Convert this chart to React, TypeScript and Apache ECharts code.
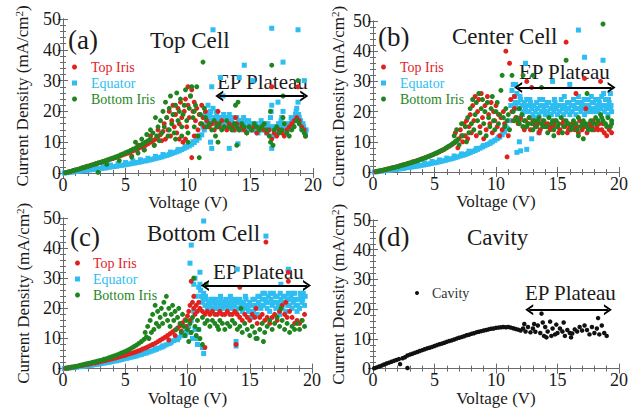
import React, { useEffect, useRef } from "react";
import * as echarts from "echarts";

const SERIF = "Liberation Serif";
const FONT_FAMILY_CSS = "\"Liberation Serif\", \"Times New Roman\", serif";
const RED = "#e0221f";
const CYAN = "#2ebdf0";
const GREEN = "#1f861f";
const BLACK = "#111111";

const xTickValues = [0, 5, 10, 15, 20];
const yTickValues = [0, 10, 20, 30, 40, 50];
const seriesNames = ["Top Iris", "Equator", "Bottom Iris"];
const cavityName = "Cavity";
const panelLetters = ["(a)", "(b)", "(c)", "(d)"];
const panelTitles = ["Top Cell", "Center Cell", "Bottom Cell", "Cavity"];
const plateauLabel = "EP Plateau";
// [start V, end V, level mA/cm2] (arrow shaft ends; heads extend slightly beyond)
const plateauArrows = [
  [12.5, 19.3, 25],
  [11.8, 19.4, 28],
  [11.4, 19.6, 27.6],
  [12.7, 19.1, 19.8],
];

// ---------- Panel (a) Top Cell ----------
const aEquator = [
  [0.1,0],[0.3,0.1],[0.5,0.2],[0.7,0.3],[0.9,0.4],[1.1,0.5],[1.3,0.6],[1.5,0.7],[1.7,0.8],[1.9,0.9],[2.1,1.0],[2.3,1.1],[2.5,1.2],[2.7,1.3],[2.9,1.4],[3.1,1.5],[3.3,1.6],[3.5,1.7],[3.7,1.9],[3.9,2.0],[4.1,2.1],[4.3,2.2],[4.5,2.4],[4.7,2.5],[4.9,2.6],[5.1,2.8],[5.3,2.9],[5.5,3.1],[5.7,3.2],[5.9,3.4],[6.1,3.5],[6.3,3.7],[6.5,3.9],[6.7,4.0],[6.9,4.2],[7.1,4.4],[7.3,4.6],[7.5,4.8],[7.7,5.0],[7.9,5.2],[8.1,5.5],[8.3,5.7],[8.5,6.0],[8.7,6.3],[8.9,6.6],[9.1,6.9],[9.3,7.2],[9.5,7.6],[9.7,8.0],[9.9,8.4],[10.1,8.8],[10.3,9.3],[10.5,9.9],[10.7,10.6],[10.9,11.4],[11.1,12.4],[11.3,14.0],[11.5,16.5],
  [2.0,1.6],[2.6,1.9],[3.2,2.2],[3.8,2.6],[4.4,3.0],[5.0,3.4],[5.6,3.9],[6.2,4.3],[6.8,4.8],[7.4,5.4],[8.0,6.0],[8.6,6.8],[9.2,7.6],[9.8,8.6],[10.4,10.2],[10.8,12],[11.2,15],[11.4,19],[11.6,22],
  [11.7,18],[11.8,20],[11.9,17],[12.0,21],[12.1,18],[12.2,16],[12.3,19],[12.4,17],[12.5,15],[12.6,18],[12.7,17],[12.8,16],[12.9,18],[13.0,15],[13.1,17],[13.2,16],[13.3,19],[13.4,15],[13.5,17],[13.6,16],[13.7,14],[13.8,16],[13.9,18],[14.0,15],[14.1,16],[14.2,17],[14.3,15],[14.4,14],[14.5,16],[14.6,17],[14.7,15],[14.8,14],[14.9,16],[15.0,15],[15.1,14],[15.2,16],[15.3,15],[15.4,14],[15.5,15],[15.6,13],[15.7,15],[15.8,14],[15.9,16],[16.0,15],[16.1,14],[16.2,15],[16.3,13],[16.4,16],[16.5,15],[16.6,18],[16.7,22],[16.8,12],[16.9,14],[17.0,15],[17.1,13],[17.2,14],[17.3,16],[17.4,15],[17.5,18],[17.6,20],[17.7,14],[17.8,13],[17.9,15],[18.0,14],[18.1,16],[18.2,15],[18.3,17],[18.4,16],[18.5,18],[18.6,19],[18.7,21],[18.8,23],[18.9,18],[19.0,17],[19.1,15],[19.2,16],[19.3,14],[19.4,13],
  [11.75,19],[12.05,17],[12.25,20],[12.45,18],[12.65,16],[12.85,19],[13.05,17],[13.25,18],[13.45,16],[13.65,18],[13.85,15],[14.05,17],[14.25,16],[14.45,18],[14.65,15],[14.85,17],[15.05,16],[15.25,14],[15.45,16],[15.65,15],[15.85,17],[16.05,14],[16.25,16],[16.45,14],[16.65,20],[16.85,15],[17.05,14],[17.25,16],[17.45,17],[17.65,15],[17.85,16],[18.05,15],[18.25,18],[18.45,17],[18.65,20],[18.85,19],[19.05,16],[19.25,15],[19.45,14],
  [12.0,46.5],[16.7,47],[18.8,46.5],[14.5,35],[17.6,36],[12.6,31],[14.1,31],[11.9,28],[11.8,10],[11.9,8],[13.3,8],[14.0,9.5],[16.7,8],[12.8,25],[15.2,30],[17.2,23],[19.3,30],
];
const aTopIris = [
  [0.2,0.1],[0.4,0.3],[0.6,0.5],[0.8,0.7],[1.0,1.0],[1.2,1.2],[1.4,1.4],[1.6,1.7],[1.8,1.9],[2.0,2.2],[2.2,2.4],[2.4,2.7],[2.6,2.9],[2.8,3.2],[3.0,3.4],[3.2,3.7],[3.4,3.9],[3.6,4.2],[3.8,4.5],[4.0,4.7],[4.2,5.0],[4.4,5.3],[4.6,5.6],[4.8,5.9],[5.0,6.2],[5.2,6.5],[5.4,6.9],[5.6,7.2],[5.8,7.5],[6.0,7.9],[6.2,8.3],[6.4,8.6],[6.6,9.0],[6.8,9.5],[7.0,10.0],[7.2,10.5],[7.4,11.0],[7.6,11.8],[7.8,12.5],[8.0,13.5],
  [5.5,5.5],[6.0,9],[6.5,7.5],[7.0,12],[7.3,9],[7.6,14],[7.9,10.5],[8.1,16],[8.2,11],[8.3,18],[8.4,14],[8.5,20],[8.6,12],[8.7,17],[8.8,22],[8.9,15],[9.0,19],[9.1,13],[9.2,21],[9.3,16],[9.4,23],[9.5,18],[9.6,10],[9.7,20],[9.8,24],[9.9,15],[10.0,22],[10.1,18],[10.2,25],[10.3,27],[10.4,20],[10.5,23],[10.6,17],[10.7,21],[10.8,14],[10.9,19],[11.0,16],[11.1,22],[11.2,18],[11.3,15],[11.4,20],[11.5,17],[10.3,5],[9.8,11],[10.5,12],[10.0,28],[9.3,11],
  [11.7,15],[11.9,16],[12.1,14],[12.3,16],[12.5,15],[12.7,17],[12.9,15],[13.1,14],[13.3,16],[13.5,15],[13.7,14],[13.9,16],[14.1,14],[14.3,15],[14.5,14],[14.7,13],[14.9,15],[15.1,14],[15.3,15],[15.5,13],[15.7,14],[15.9,15],[16.1,14],[16.3,13],[16.5,14],[16.7,11],[16.9,13],[17.1,12],[17.3,14],[17.5,13],[17.7,12],[17.9,14],[18.1,15],[18.3,16],[18.5,17],[18.7,18],[18.9,17],[19.1,15],[19.3,14],[19.4,12],
  [16.7,28],[18.8,28],[12.4,20],[13.8,18],
];
const aBottomIris = [
  [0.2,0.1],[0.4,0.3],[0.6,0.5],[0.8,0.8],[1.0,1.0],[1.2,1.2],[1.4,1.5],[1.6,1.7],[1.8,2.0],[2.0,2.2],[2.2,2.5],[2.4,2.7],[2.6,3.0],[2.8,0.2],[2.8,3.2],[3.0,3.5],[3.2,3.8],[3.4,4.0],[3.6,4.3],[3.8,4.6],[4.0,4.9],[4.2,5.2],[4.4,5.5],[4.6,5.9],[4.8,6.2],[5.0,6.6],[5.2,6.9],[5.4,7.3],[5.6,7.7],[5.8,8.1],[6.0,8.5],[6.2,9.0],[6.4,9.5],[6.6,10.0],[6.8,10.5],[7.0,11.1],
  [3.5,2.8],[4.5,4.0],[5.5,5.2],[6.0,6.5],[6.5,7.5],[5.8,10],[6.3,11],[6.7,12.5],[7.0,14],
  [7.2,13],[7.3,9],[7.4,18],[7.5,12],[7.6,15],[7.7,10.5],[7.8,17],[7.9,13],[8.0,20],[8.1,15],[8.2,23],[8.3,18],[8.4,12],[8.5,21],[8.6,25],[8.7,16],[8.8,19],[8.9,13],[9.0,22],[9.1,26],[9.2,17],[9.3,20],[9.4,24],[9.5,15],[9.6,19],[9.7,22],[9.8,27],[9.9,17],[10.0,13],[10.1,21],[10.2,25],[10.3,28],[10.4,18],[10.5,15],[10.6,22],[10.7,28],[10.8,12],[10.9,5],[11.0,19],[11.1,16],[11.2,36],[11.3,21],[11.4,18],[11.5,15],[8.5,14],[9.0,11],[9.5,12],[10.0,10],[10.5,20],
  [11.7,16],[11.9,14],[12.1,17],[12.3,15],[12.5,16],[12.7,14],[12.9,15],[13.1,17],[13.3,15],[13.5,14],[13.7,16],[13.8,22],[13.9,15],[14.1,14],[14.3,16],[14.5,15],[14.7,13],[14.9,15],[15.1,14],[15.3,16],[15.5,15],[15.7,14],[15.9,15],[16.1,16],[16.3,14],[16.5,12],[16.6,10],[16.7,35],[16.8,9],[16.9,14],[17.1,15],[17.3,13],[17.5,14],[17.6,25],[17.7,16],[17.9,13],[18.1,12],[18.3,14],[18.5,15],[18.7,17],[18.8,30],[18.9,16],[19.1,14],[19.3,13],[19.4,12],
  [13.9,9],[12.4,10],[14.0,23],[16.6,20],[17.6,18],[12.2,12],
];

// ---------- Panel (b) Center Cell ----------
const bEquator = [
  [0.1,0],[0.3,0.1],[0.5,0.2],[0.7,0.3],[0.9,0.4],[1.1,0.5],[1.3,0.6],[1.5,0.7],[1.7,0.8],[1.9,0.9],[2.1,1.0],[2.3,1.1],[2.5,1.2],[2.7,1.4],[2.9,1.5],[3.1,1.6],[3.3,1.8],[3.5,1.9],[3.7,2.0],[3.9,2.2],[4.1,2.3],[4.3,2.5],[4.5,2.6],[4.7,2.8],[4.9,3.0],[5.1,3.1],[5.3,3.3],[5.5,3.5],[5.7,3.7],[5.9,3.9],[6.1,4.1],[6.3,4.3],[6.5,4.5],[6.7,4.8],[6.9,5.0],[7.1,5.3],[7.3,5.5],[7.5,5.8],[7.7,6.1],[7.9,6.4],[8.1,6.8],[8.3,7.1],[8.5,7.5],[8.7,7.9],[8.9,8.3],[9.1,8.7],[9.3,9.1],[9.5,9.5],[9.7,10.0],[9.9,10.5],[10.1,11.0],[10.3,11.6],[10.5,12.3],[10.7,13.2],[10.9,14.5],[11.1,17],[11.2,22],[11.3,27],
  [2.4,1.7],[3.0,2.1],[3.6,2.5],[4.2,3.0],[4.8,3.5],[5.4,4.0],[6.0,4.6],[6.6,5.3],[7.2,6.0],[7.8,6.9],[8.4,7.8],[9.0,8.8],[9.6,9.9],[10.2,11.5],[10.6,13.5],[10.8,15],
  [11.4,29],[11.5,25],[11.6,22],[11.7,26],[11.8,23],[11.9,21],[12.0,24],[12.1,22],[12.2,20],[12.3,23],[12.4,21],[12.5,24],[12.6,22],[12.7,20],[12.8,23],[12.9,21],[13.0,19],[13.1,22],[13.2,20],[13.3,23],[13.4,21],[13.5,19],[13.6,22],[13.7,20],[13.8,24],[13.9,21],[14.0,19],[14.1,22],[14.2,20],[14.3,23],[14.4,21],[14.5,19],[14.6,22],[14.7,20],[14.8,23],[14.9,21],[15.0,19],[15.1,22],[15.2,20],[15.3,24],[15.4,21],[15.5,19],[15.6,22],[15.7,20],[15.8,23],[15.9,21],[16.0,19],[16.1,22],[16.2,20],[16.3,24],[16.4,21],[16.5,19],[16.6,23],[16.7,25],[16.8,21],[16.9,20],[17.0,23],[17.1,21],[17.2,19],[17.3,22],[17.4,20],[17.5,24],[17.6,21],[17.7,20],[17.8,23],[17.9,21],[18.0,20],[18.1,24],[18.2,22],[18.3,20],[18.4,23],[18.5,21],[18.6,25],[18.7,22],[18.8,20],[18.9,24],[19.0,22],[19.1,19],[19.2,23],[19.3,21],[19.4,20],
  [11.55,23],[11.75,21],[11.95,25],[12.15,19],[12.35,22],[12.55,20],[12.75,24],[12.95,22],[13.15,18],[13.35,21],[13.55,24],[13.75,22],[13.95,20],[14.15,23],[14.35,19],[14.55,21],[14.75,24],[14.95,22],[15.15,20],[15.35,22],[15.55,25],[15.75,21],[15.95,23],[16.15,20],[16.35,22],[16.55,21],[16.75,23],[16.95,22],[17.15,24],[17.35,20],[17.55,22],[17.75,25],[17.95,23],[18.15,21],[18.35,24],[18.55,22],[18.75,26],[18.95,21],[19.15,24],[19.35,22],
  [16.7,47],[12.4,36],[17.2,38],[18.7,37],[16.0,29],[14.6,30],[12.5,7.5],[12.0,7],[11.7,6.5],[11.9,10],[12.9,11],[13.5,13],[19.3,26],[11.6,29],
];
const bTopIris = [
  [0.2,0.1],[0.4,0.2],[0.6,0.4],[0.8,0.6],[1.0,0.8],[1.2,1.0],[1.4,1.2],[1.6,1.4],[1.8,1.6],[2.0,1.8],[2.2,2.1],[2.4,2.3],[2.6,2.5],[2.8,2.8],[3.0,3.0],[3.2,3.3],[3.4,3.5],[3.6,3.8],[3.8,4.1],[4.0,4.4],[4.2,4.7],[4.4,5.0],[4.6,5.3],[4.8,5.6],[5.0,6.0],[5.2,6.3],[5.4,6.7],[5.6,7.1],[5.8,7.5],[6.0,8.0],[6.2,8.5],[6.4,9.0],[6.6,9.6],[6.8,10.3],[7.0,11.0],[7.2,12],
  [6.7,13],[6.9,8],[7.1,14],[7.3,10],[7.4,16],[7.5,12],[7.6,17],[7.7,11],[7.8,15],[7.9,19],[8.0,13],[8.1,22],[8.2,17],[8.3,25],[8.4,12],[8.5,20],[8.6,24],[8.7,15],[8.8,26],[8.9,18],[9.0,11],[9.1,22],[9.2,14],[9.3,25],[9.4,19],[9.5,16],[9.6,23],[9.7,13],[9.8,20],[9.9,17],[10.0,22],[10.1,15],[10.2,19],[10.3,12],[10.4,18],[10.5,14],[10.6,20],[10.7,16],[10.8,40],[10.9,5],[11.0,12],[11.1,36],[11.2,24],[11.3,20],[11.4,17],[11.5,21],[11.6,18],
  [11.8,16],[12.0,18],[12.2,15],[12.4,17],[12.6,16],[12.8,14],[13.0,17],[13.2,15],[13.4,16],[13.6,14],[13.8,17],[14.0,15],[14.2,16],[14.4,14],[14.6,15],[14.8,17],[15.0,15],[15.2,14],[15.4,16],[15.6,15],[15.8,13],[16.0,15],[16.2,16],[16.4,14],[16.6,15],[16.8,17],[17.0,14],[17.2,15],[17.4,13],[17.6,16],[17.8,15],[18.0,14],[18.2,15],[18.4,16],[18.6,14],[18.8,13],[19.0,12],[19.2,14],[19.4,13],
  [11.9,17],[12.3,14],[12.7,18],[13.1,16],[13.5,13],[13.9,16],[14.3,15],[14.7,16],[15.1,13],[15.5,17],[15.9,14],[16.3,15],[16.7,13],[17.1,16],[17.5,15],[17.9,17],[18.3,14],[18.7,16],[19.1,15],
  [15.7,43],[17.2,31],[18.5,30],[12.5,30],[12.9,28],[17.3,21],[16.5,26],[11.5,25],
];
const bBottomIris = [
  [0.3,0.2],[0.5,0.4],[0.7,0.5],[0.9,0.7],[1.1,0.9],[1.3,1.1],[1.5,1.3],[1.7,1.5],[1.9,1.7],[2.1,1.9],[2.3,2.2],[2.5,2.4],[2.7,2.6],[2.9,2.9],[3.1,3.1],[3.3,3.4],[3.5,3.6],[3.7,3.9],[3.9,4.2],[4.1,4.5],[4.3,4.8],[4.5,5.1],[4.7,5.5],[4.9,5.8],[5.1,6.2],[5.3,6.6],[5.5,7.0],[5.7,7.4],[5.9,7.9],[6.1,8.4],[6.3,8.9],[6.5,9.5],[6.7,10.1],[6.9,10.8],
  [6.6,12],[6.8,14],[7.0,9],[7.2,16],[7.3,12],[7.5,15],[7.6,10],[7.7,18],[7.8,13],[7.9,21],[8.0,16],[8.1,24],[8.2,14],[8.3,19],[8.4,23],[8.5,17],[8.6,26],[8.7,13],[8.8,21],[8.9,24],[9.0,16],[9.1,20],[9.2,12],[9.3,23],[9.4,18],[9.5,15],[9.6,21],[9.7,25],[9.8,17],[9.9,14],[10.0,20],[10.1,23],[10.2,16],[10.3,19],[10.4,27],[10.5,32],[10.6,18],[10.7,15],[10.8,21],[10.9,17],[11.0,19],[11.1,14],[11.3,32],[11.4,20],[11.5,17],
  [11.7,18],[11.9,16],[12.1,19],[12.3,17],[12.5,15],[12.7,18],[12.9,16],[13.1,17],[13.3,15],[13.5,18],[13.7,16],[13.9,17],[14.1,15],[14.3,18],[14.5,16],[14.7,14],[14.9,17],[15.1,16],[15.3,18],[15.5,15],[15.7,17],[15.9,16],[16.1,14],[16.3,17],[16.5,16],[16.7,18],[16.9,15],[17.1,17],[17.3,16],[17.5,14],[17.7,17],[17.9,16],[18.1,18],[18.3,17],[18.5,19],[18.7,17],[18.9,16],[19.1,18],[19.3,15],[19.4,17],
  [11.8,17],[12.2,15],[12.6,16],[13.0,14],[13.4,17],[13.8,15],[14.2,13],[14.6,17],[15.0,15],[15.4,13],[15.8,16],[16.2,15],[16.6,14],[17.0,16],[17.4,15],[17.8,14],[18.2,16],[18.6,18],[19.0,15],[19.4,16],
  [18.7,49],[15.7,37],[13.7,28],[17.4,26],[13.0,32],[12.2,32],[11.9,21],[17.1,11],[14.7,12],[16.7,12],
];

// ---------- Panel (c) Bottom Cell ----------
const cEquator = [
  [0.1,0],[0.3,0.1],[0.5,0.2],[0.7,0.3],[0.9,0.4],[1.1,0.5],[1.3,0.6],[1.5,0.7],[1.7,0.8],[1.9,0.9],[2.1,1.0],[2.3,1.1],[2.5,1.3],[2.7,1.4],[2.9,1.5],[3.1,1.7],[3.3,1.8],[3.5,2.0],[3.7,2.1],[3.9,2.3],[4.1,2.5],[4.3,2.6],[4.5,2.8],[4.7,3.0],[4.9,3.2],[5.1,3.4],[5.3,3.6],[5.5,3.8],[5.7,4.0],[5.9,4.2],[6.1,4.5],[6.3,4.7],[6.5,5.0],[6.7,5.2],[6.9,5.5],[7.1,5.8],[7.3,6.1],[7.5,6.4],[7.7,6.8],[7.9,7.1],[8.1,7.5],[8.3,7.9],[8.5,8.3],[8.7,8.8],[8.9,9.3],[9.1,9.8],[9.3,10.3],[9.5,10.9],[9.7,11.6],[9.9,12.5],[10.1,14],[10.3,16],[10.5,19],[10.7,24],[10.9,27],
  [2.6,1.8],[3.2,2.2],[3.8,2.7],[4.4,3.2],[5.0,3.8],[5.6,4.4],[6.2,5.1],[6.8,5.8],[7.4,6.6],[8.0,7.5],[8.6,8.5],[9.2,9.6],[9.8,11],[10.2,12],[10.6,13],[10.4,10],[10.8,8],
  [11.0,28],[11.1,24],[11.2,22],[11.3,25],[11.4,21],[11.5,23],[11.6,20],[11.7,22],[11.8,21],[11.9,23],[12.0,20],[12.1,22],[12.2,21],[12.3,23],[12.4,20],[12.5,22],[12.6,21],[12.7,23],[12.8,20],[12.9,22],[13.0,21],[13.1,23],[13.2,20],[13.3,22],[13.4,21],[13.5,23],[13.6,20],[13.7,22],[13.8,21],[13.9,19],[14.0,22],[14.1,20],[14.2,23],[14.3,21],[14.4,19],[14.5,22],[14.6,20],[14.7,23],[14.8,21],[14.9,19],[15.0,22],[15.1,17],[15.2,21],[15.3,19],[15.4,23],[15.5,20],[15.6,18],[15.7,22],[15.8,24],[15.9,20],[16.0,23],[16.1,21],[16.2,25],[16.3,22],[16.4,20],[16.5,24],[16.6,19],[16.7,23],[16.8,21],[16.9,25],[17.0,22],[17.1,20],[17.2,24],[17.3,21],[17.4,18],[17.5,23],[17.6,20],[17.7,24],[17.8,22],[17.9,19],[18.0,23],[18.1,25],[18.2,21],[18.3,24],[18.4,20],[18.5,22],[18.6,25],[18.7,21],[18.8,19],[18.9,23],[19.0,20],[19.1,24],[19.2,22],[19.3,25],[19.4,21],
  [11.05,26],[11.25,23],[11.45,24],[11.65,21],[11.85,22],[12.05,23],[12.25,20],[12.45,22],[12.65,24],[12.85,21],[13.05,22],[13.25,21],[13.45,24],[13.65,21],[13.85,23],[14.05,20],[14.25,22],[14.45,21],[14.65,24],[14.85,20],[15.05,19],[15.25,23],[15.45,21],[15.65,24],[15.85,21],[16.05,25],[16.25,23],[16.45,22],[16.65,25],[16.85,22],[17.05,24],[17.25,22],[17.45,25],[17.65,22],[17.85,24],[18.05,21],[18.25,23],[18.45,25],[18.65,23],[18.85,21],[19.05,25],[19.25,23],[19.45,24],
  [10.3,41],[10.2,35],[11.3,49],[16.3,44],[14.0,33],[17.5,28],[18.1,33],[10.6,30],[11.0,32],[13.9,9],[13.9,7.5],[11.3,5],[11.2,7],[10.5,28],[10.9,13],[10.7,10],
];
const cTopIris = [
  [0.2,0.1],[0.4,0.2],[0.6,0.4],[0.8,0.5],[1.0,0.7],[1.2,0.8],[1.4,1.0],[1.6,1.1],[1.8,1.3],[2.0,1.4],[2.2,1.6],[2.4,1.8],[2.6,1.9],[2.8,2.1],[3.0,2.3],[3.2,2.5],[3.4,2.7],[3.6,2.9],[3.8,3.1],[4.0,3.3],[4.2,3.5],[4.4,3.7],[4.6,4.0],[4.8,4.2],[5.0,4.4],[5.2,4.7],[5.4,5.0],[5.6,5.2],[5.8,5.5],[6.0,5.8],[6.2,6.1],[6.4,6.5],[6.6,6.8],[6.8,7.2],[7.0,7.6],[7.2,8.0],[7.4,8.4],[7.6,8.9],[7.8,9.4],[8.0,9.9],[8.2,10.4],[8.4,11.0],[8.6,11.6],[8.8,12.2],[9.0,12.8],[9.2,13.5],[9.4,14.3],[9.6,15.2],[9.8,16.2],[10.0,17.5],[10.1,19],[10.2,21],[10.3,29],[10.4,22],[10.5,20],[10.6,18],[10.7,21],[10.8,19],[10.9,22],[11.0,20],
  [8.5,9.5],[9.0,11],[9.5,12.5],[9.9,14],[10.2,16],[10.5,24],
  [11.2,19],[11.4,18],[11.6,19],[11.8,18],[12.0,19],[12.2,18],[12.4,18],[12.6,19],[12.8,18],[13.0,18],[13.2,19],[13.4,18],[13.6,18],[13.8,19],[14.0,18],[14.2,17],[14.4,16],[14.6,18],[14.8,17],[15.0,16],[15.2,18],[15.4,17],[15.6,15],[15.8,17],[16.0,18],[16.2,16],[16.4,17],[16.6,15],[16.8,17],[17.0,18],[17.2,16],[17.4,19],[17.6,21],[17.8,18],[18.0,17],[18.2,19],[18.4,17],[18.6,15],[18.8,16],[19.0,15],[19.2,16],[19.4,18],
  [16.3,42],[18.1,29],[18.1,32],[14.2,27],[13.9,8],[11.4,7],[17.9,22],[15.5,20],
];
const cBottomIris = [
  [0.3,0.2],[0.5,0.3],[0.7,0.5],[0.9,0.6],[1.1,0.8],[1.3,1.0],[1.5,1.2],[1.7,1.4],[1.9,1.6],[2.1,1.8],[2.3,2.0],[2.5,2.2],[2.7,2.4],[2.9,2.6],[3.1,2.8],[3.3,3.1],[3.5,3.3],[3.7,3.6],[3.9,3.9],[4.1,4.2],[4.3,4.5],[4.5,4.8],[4.7,5.2],[4.9,5.5],[5.1,5.9],[5.3,6.3],[5.5,6.8],[5.7,7.3],[5.9,7.8],[6.1,8.4],[6.3,9.0],[6.5,9.7],[6.7,10.5],
  [6.6,12],[6.8,14],[6.9,10],[7.0,16],[7.1,12],[7.2,18],[7.3,13],[7.4,21],[7.5,15],[7.6,19],[7.7,14],[7.8,17],[7.9,20],[8.0,15],[8.1,22],[8.2,18],[8.3,24],[8.4,16],[8.5,20],[8.6,14],[8.7,18],[8.8,21],[8.9,16],[9.0,19],[9.1,13],[9.2,17],[9.3,20],[9.4,15],[9.5,12],[9.6,18],[9.7,14],[9.8,11],[9.9,16],[10.0,13],[10.1,9],[10.2,15],[10.3,12],[10.4,17],[10.5,30],[10.6,14],[10.7,11],[10.8,16],[10.9,13],[11.0,10],[11.5,28],[11.2,8],
  [11.2,17],[11.4,15],[11.6,16],[11.8,14],[12.0,16],[12.2,15],[12.4,14],[12.6,16],[12.8,15],[13.0,13],[13.2,15],[13.4,14],[13.6,16],[13.8,15],[14.0,13],[14.2,14],[14.4,12],[14.6,15],[14.8,13],[15.0,11],[15.2,14],[15.4,12],[15.6,10],[15.8,13],[16.0,15],[16.2,12],[16.4,14],[16.6,16],[16.8,13],[17.0,15],[17.2,17],[17.4,14],[17.6,16],[17.8,13],[18.0,15],[18.2,12],[18.4,14],[18.6,13],[18.8,15],[19.0,13],[19.2,16],[19.4,14],
  [14.3,20],[17.5,20],[12.5,13],[15.5,10],[16.1,9],
];

// ---------- Panel (d) Cavity ----------
const dCavity = [
  [0.1,0.1],[0.3,0.4],[0.5,0.7],[0.7,1.0],[0.9,1.4],[1.1,1.7],[1.3,2.0],[1.5,2.3],[1.7,2.6],[1.9,2.9],[2.1,3.2],[2.2,1.5],[2.4,3.5],[2.6,3.8],[2.8,0.2],[2.8,4.4],[3.0,4.7],[3.2,5.0],[3.4,5.3],[3.6,5.6],[3.8,5.9],[4.0,6.2],[4.2,6.5],[4.4,6.8],[4.6,7.0],[4.8,7.3],[5.0,7.6],[5.2,7.9],[5.4,8.2],[5.6,8.4],[5.8,8.7],[6.0,9.0],[6.2,9.3],[6.4,9.5],[6.6,9.8],[6.8,10.1],[7.0,10.4],[7.2,10.6],[7.4,10.9],[7.6,11.2],[7.8,11.4],[8.0,11.7],[8.2,11.9],[8.4,12.2],[8.6,12.4],[8.8,12.6],[9.0,12.8],[9.2,13.0],[9.4,13.2],[9.6,13.4],[9.8,13.5],[10.0,13.7],[10.2,13.8],[10.4,13.9],[10.6,14.0],[10.8,13.9],[11.0,14.0],[11.2,13.8],[11.4,13.6],[11.6,13.3],[11.8,13.1],[12.0,12.8],[12.2,13.5],[12.3,15],[12.4,12.5],[12.6,14],[12.8,12.2],[13.0,13.5],[13.1,15],[13.2,12.4],[13.4,14.5],[13.6,12.0],[13.7,18.5],[13.8,15.5],[13.9,11],[14.0,14],[14.1,10.5],[14.2,12.5],[14.4,15.8],[14.5,11],[14.6,13.5],[14.8,11.5],[14.9,14.8],[15.0,12],[15.2,13.5],[15.4,12.5],[15.5,15.5],[15.6,11],[15.8,13],[16.0,12],[16.1,10.5],[16.2,11.8],[16.4,13.2],[16.6,12.5],[16.8,14],[17.0,12.8],[17.2,14.5],[17.4,13],[17.6,11.5],[17.8,14],[18.0,12],[18.2,13.5],[18.3,17],[18.4,11.5],[18.6,14.5],[18.8,12],[19.0,11],
];

// layout (pixels)
const grids = [
  { left: 63, top: 19, width: 250, height: 154 },
  { left: 373, top: 21, width: 251, height: 151 },
  { left: 63, top: 218, width: 249, height: 154 },
  { left: 373, top: 220, width: 250, height: 149 },
];
const yNameGaps = [31, 25, 30, 25];
const letterPos = [[68, 40], [378, 37], [70, 237], [378, 237]];
const titlePos = [[150, 40], [452, 36], [147, 233], [467, 237]];
const plateauPos = [[217, 82], [519, 72], [213, 272], [525, 293]];
const legendPos = [[72, 60], [381, 60], [75, 256], [415, 286]];

const AXIS_COLOR = "#6a6a6a";
const TEXT_COLOR = "#1a1a1a";
const CHEVRON = "path://M0,10L5,0L10,10L8,10L5,4L2,10Z";

function buildOption() {
  const xAxis: any[] = [];
  const yAxis: any[] = [];
  const series: any[] = [];
  const legend: any[] = [];
  const graphic: any[] = [];

  const tickCommon = {
    axisLine: { show: true, lineStyle: { color: AXIS_COLOR, width: 1 } },
    axisTick: { show: true, inside: true, length: 5, lineStyle: { color: AXIS_COLOR } },
    minorTick: { show: true, splitNumber: 5, length: 3, lineStyle: { color: AXIS_COLOR } },
    splitLine: { show: false },
    minorSplitLine: { show: false },
  };
  const xRange = { min: xTickValues[0], max: xTickValues[xTickValues.length - 1], interval: xTickValues[1] - xTickValues[0] };
  const yRange = { min: yTickValues[0], max: yTickValues[yTickValues.length - 1], interval: yTickValues[1] - yTickValues[0] };
  const tickRich = { t: { fontSize: 18, lineHeight: 13, fontFamily: SERIF, color: TEXT_COLOR } };

  grids.forEach((g, i) => {
    xAxis.push({
      type: "value", gridIndex: i, position: "bottom", ...xRange, ...tickCommon,
      axisLabel: { show: true, margin: 5, formatter: (v: number) => `{t|${v}}`, rich: tickRich },
      name: "{n|Voltage (V)}", nameLocation: "middle", nameGap: 19,
      nameTextStyle: { fontSize: 17, fontFamily: SERIF, color: TEXT_COLOR, rich: { n: { fontSize: 17, fontFamily: SERIF, color: TEXT_COLOR } } },
    });
    xAxis.push({
      type: "value", gridIndex: i, position: "top", ...xRange, ...tickCommon,
      axisLabel: { show: false },
    });
    yAxis.push({
      type: "value", gridIndex: i, position: "left", ...yRange, ...tickCommon,
      axisLabel: { show: true, margin: 2, formatter: (v: number) => `{t|${v}}`, rich: tickRich },
      name: "{n|Current Density (mA/cm}{sup|2}{n|)}", nameLocation: "middle", nameGap: yNameGaps[i],
      nameTextStyle: {
        fontSize: 17, fontFamily: SERIF, color: TEXT_COLOR,
        rich: {
          n: { fontSize: 17, fontFamily: SERIF, color: TEXT_COLOR },
          sup: { fontSize: 11, fontFamily: SERIF, color: TEXT_COLOR, padding: [0, 0, 8, 0] },
        },
      },
    });
    yAxis.push({
      type: "value", gridIndex: i, position: "right", ...yRange, ...tickCommon,
      axisLabel: { show: false },
    });

    const txt = (x: number, y: number, text: string, size: number) => ({
      type: "text", x, y, silent: true,
      style: { text, font: `${size}px ${FONT_FAMILY_CSS}`, fill: TEXT_COLOR, textVerticalAlign: "middle", verticalAlign: "middle" },
    });
    graphic.push(txt(letterPos[i][0], letterPos[i][1], panelLetters[i], 27));
    graphic.push(txt(titlePos[i][0], titlePos[i][1], panelTitles[i], 23));
    graphic.push(txt(plateauPos[i][0], plateauPos[i][1], plateauLabel, 21));
  });

  const arrowMark = (i: number) => ({
    silent: true,
    symbol: [CHEVRON, CHEVRON],
    symbolSize: [11, 8],
    label: { show: false },
    lineStyle: { color: "#000", width: 2, type: "solid" },
    itemStyle: { color: "#000" },
    emphasis: { disabled: true },
    data: [[
      { coord: [plateauArrows[i][0], plateauArrows[i][2]] },
      { coord: [plateauArrows[i][1], plateauArrows[i][2]] },
    ]],
  });

  const mk = (name: string, data: number[][], gi: number, color: string, symbol: string, size: number, withArrow: boolean) => ({
    type: "scatter", name, data, xAxisIndex: gi * 2, yAxisIndex: gi * 2,
    symbol, symbolSize: size, itemStyle: { color, opacity: 1 },
    emphasis: { disabled: true }, silent: true,
    ...(withArrow ? { markLine: arrowMark(gi) } : {}),
  });

  const legendKey: Record<string, string> = { "Top Iris": "r", "Equator": "c", "Bottom Iris": "g", "Cavity": "k" };
  const legendRich = (pad: number) => ({
    r: { fontSize: 14, fontFamily: SERIF, color: RED, padding: [0, 0, 0, pad] },
    c: { fontSize: 14, fontFamily: SERIF, color: CYAN, padding: [0, 0, 0, pad] },
    g: { fontSize: 14, fontFamily: SERIF, color: GREEN, padding: [0, 0, 0, pad] },
    k: { fontSize: 14, fontFamily: SERIF, color: "#333", padding: [0, 0, 0, pad] },
  });

  const cellData = [
    [aTopIris, aEquator, aBottomIris],
    [bTopIris, bEquator, bBottomIris],
    [cTopIris, cEquator, cBottomIris],
  ];
  cellData.forEach((sets, gi) => {
    series.push(mk(seriesNames[1], sets[1], gi, CYAN, "rect", 5, false));
    series.push(mk(seriesNames[0], sets[0], gi, RED, "circle", 5, false));
    series.push(mk(seriesNames[2], sets[2], gi, GREEN, "circle", 5, true));
    legend.push({
      orient: "vertical", left: legendPos[gi][0], top: legendPos[gi][1], padding: 0,
      itemWidth: 5, itemHeight: 5, itemGap: 2, selectedMode: false,
      formatter: (name: string) => `{${legendKey[name]}|${name}}`,
      textStyle: { fontFamily: SERIF, fontSize: 14, lineHeight: 14, rich: legendRich(gi === 2 ? 8 : 9) },
      data: [
        { name: seriesNames[0], icon: "circle" },
        { name: seriesNames[1], icon: "rect" },
        { name: seriesNames[2], icon: "circle" },
      ],
    });
  });
  series.push(mk(cavityName, dCavity, 3, BLACK, "circle", 4.5, true));
  legend.push({
    orient: "vertical", left: legendPos[3][0], top: legendPos[3][1], padding: 0,
    itemWidth: 4, itemHeight: 4, selectedMode: false,
    formatter: (name: string) => `{${legendKey[name]}|${name}}`,
    textStyle: { fontFamily: SERIF, fontSize: 14, lineHeight: 14, rich: legendRich(8) },
    data: [{ name: cavityName, icon: "circle" }],
  });

  return {
    animation: false,
    backgroundColor: "#ffffff",
    textStyle: { fontFamily: SERIF },
    grid: grids.map((g) => ({ ...g, containLabel: false })),
    xAxis, yAxis, series, legend, graphic,
  };
}

export default function App() {
  const ref = useRef<HTMLDivElement>(null);
  useEffect(() => {
    if (!ref.current) return;
    const chart = echarts.init(ref.current, undefined, { renderer: "svg" });
    chart.setOption(buildOption() as any);
    return () => chart.dispose();
  }, []);
  return <div ref={ref} style={{ position: "fixed", left: 0, top: 0, width: 631, height: 408, background: "#fff" }} />;
}
